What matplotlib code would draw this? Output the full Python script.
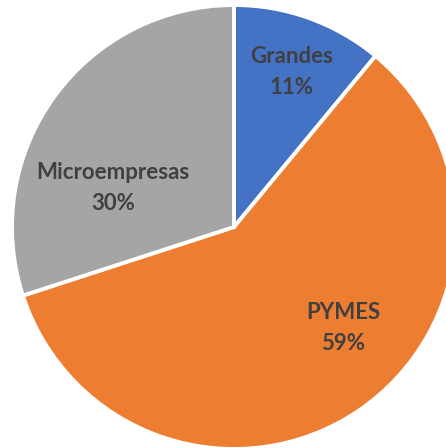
import matplotlib
matplotlib.use("Agg")
import matplotlib.pyplot as plt

categories = ["Grandes", "PYMES", "Microempresas"]
shares = [11, 59, 30]
colors = ["#4472C4", "#ED7D31", "#A5A5A5"]

fig = plt.figure(figsize=(4.46, 4.48), dpi=100)
ax = fig.add_axes([0, 0, 1, 1])
ax.axis("off")

wedges, _ = ax.pie(
    shares,
    colors=colors,
    startangle=90,
    counterclock=False,
    radius=1.0,
    wedgeprops=dict(edgecolor="white", linewidth=2.8),
)

# pixel-scaled limits: centre at (234, 227) px, radius 222 px
ax.set_xlim(-234 / 222, (446 - 234) / 222)
ax.set_ylim(-(448 - 227) / 222, 227 / 222)
ax.set_aspect("auto")

label_pos = {
    "Grandes": (292, 72),
    "PYMES": (343, 328),
    "Microempresas": (113, 188),
}
for name, val in zip(categories, shares):
    px, py = label_pos[name]
    x = (px - 234) / 222
    y = (227 - py) / 222
    ax.text(x, y, f"{name}\n{val}%", ha="center", va="center",
            fontsize=16, fontweight="bold", color="#404040",
            family=["Lato", "DejaVu Sans"], linespacing=1.55)

fig.savefig("out.png", dpi=100)
